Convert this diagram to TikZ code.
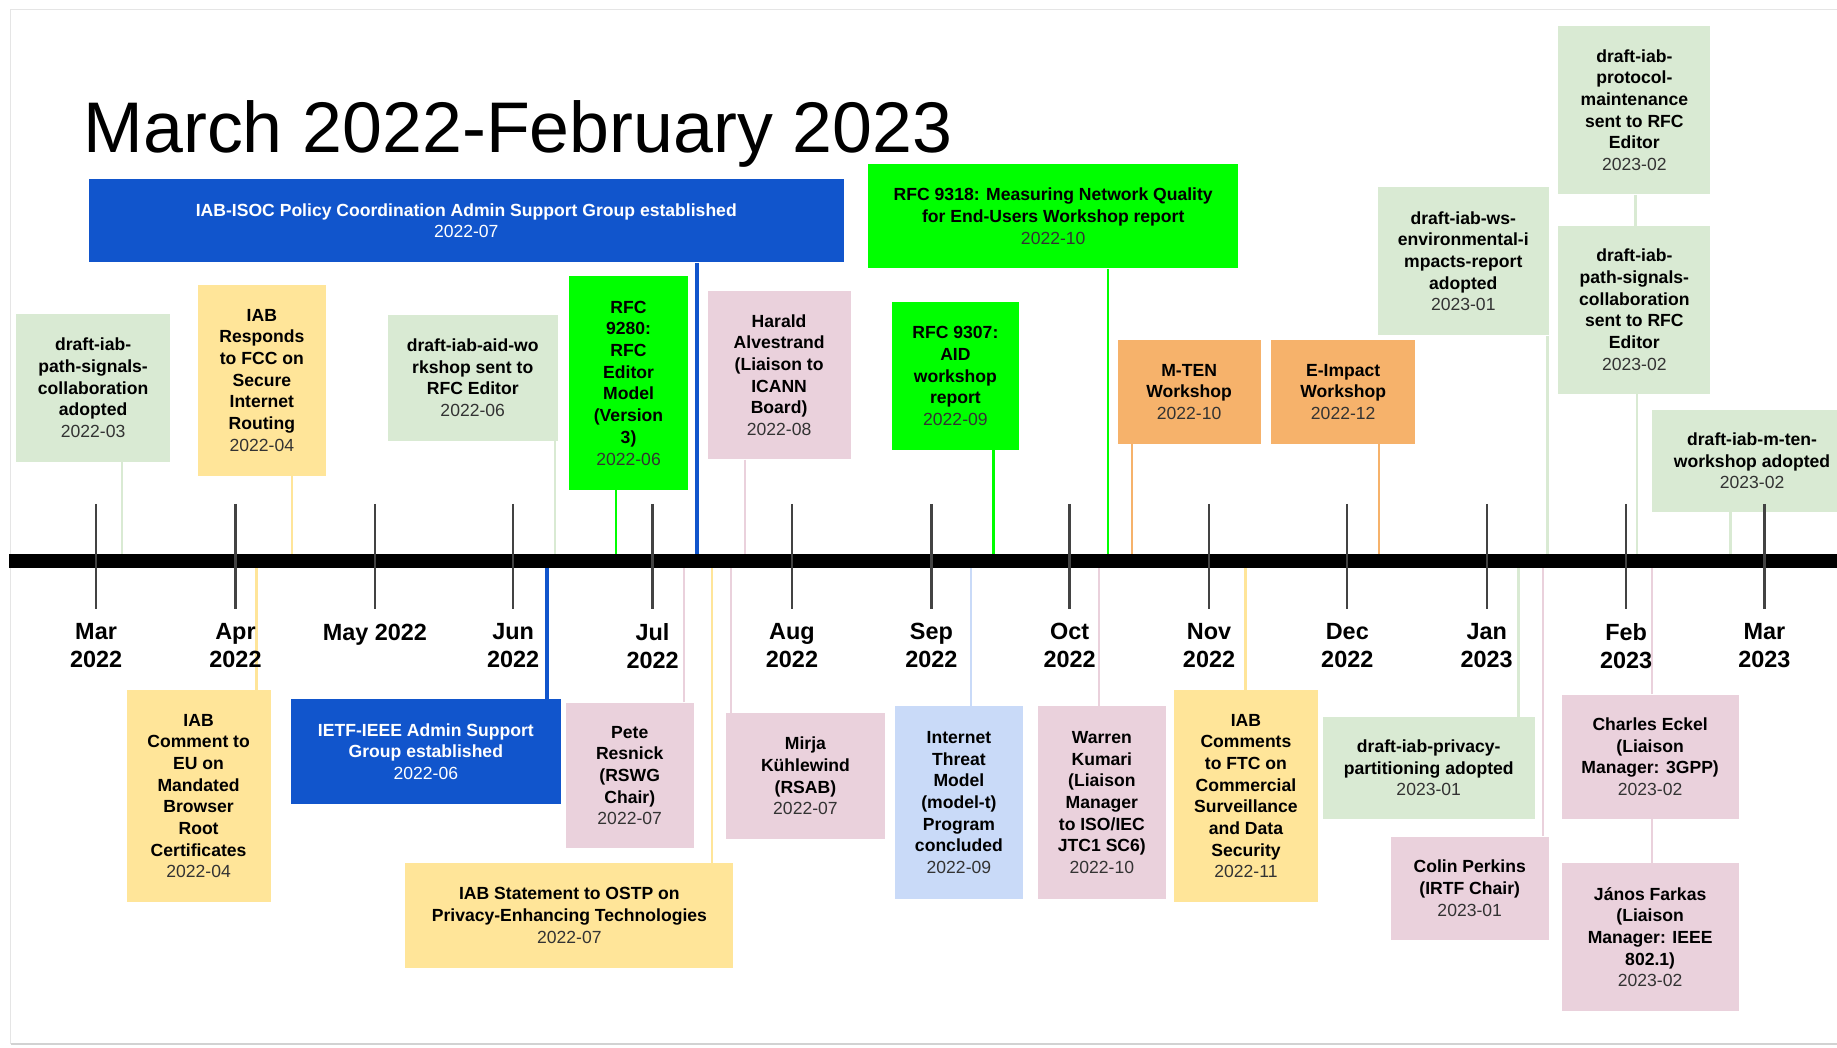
\documentclass[tikz,border=0pt]{standalone}
\usepackage{fontspec}
\setmainfont{Liberation Sans}
\usepackage{xcolor}
\usepackage{tikz}

\definecolor{draftgreen}{HTML}{D9EAD3}
\definecolor{stmtyellow}{HTML}{FFE599}
\definecolor{wsorange}{HTML}{F6B26B}
\definecolor{liaisonpink}{HTML}{EAD1DC}
\definecolor{rfcgreen}{HTML}{00FF00}
\definecolor{adminblue}{HTML}{1155CC}
\definecolor{progblue}{HTML}{C9DAF8}
\definecolor{datetext}{HTML}{333333}
\definecolor{tickgray}{HTML}{434343}

\newcommand{\evdate}[1]{{\mdseries\color{datetext}#1}}

\begin{document}
\begin{tikzpicture}[
  x=0.5pt, y=-0.5pt,
  event/.style={rectangle, inner sep=0pt, align=center, font=\fontsize{7.5}{9.25}\selectfont\bfseries},
  month/.style={anchor=north, inner sep=0pt, align=center, font=\fontsize{10}{12}\selectfont\bfseries,
    execute at begin node=\rule{0pt}{7.6pt}},
  conn/.style={line width=1pt},
  bluelink/.style={line width=1.4pt, adminblue},
  mtick/.style={line width=1pt, tickgray}
]
  \useasboundingbox (0,0) rectangle (1568,894);

  % Page frame
  \draw[gray!20, line width=0.6pt] (9,891) -- (9,8) -- (1568,8);
  \draw[gray!35, line width=0.8pt] (9,891) -- (1568,891);

  % Title
  \node[anchor=base west, inner sep=0pt, font=\fontsize{30.6}{36}\selectfont] (title) at (71,130) {March 2022-February 2023};

  % Timeline end points
  \coordinate (axisL) at (8,479);
  \coordinate (axisR) at (1568,479);

  % Events above the line
  \node[event, fill=draftgreen, minimum width=65.5pt, minimum height=63pt] (pathsig) at (79.5,331)
    {draft-iab-\\path-signals-\\collaboration\\adopted\\\evdate{2022-03}};
  \node[event, fill=stmtyellow, minimum width=54.5pt, minimum height=81.5pt] (fcc) at (223.5,324.5)
    {IAB\\Responds\\to FCC on\\Secure\\Internet\\Routing\\\evdate{2022-04}};
  \node[event, fill=adminblue, text=white, minimum width=322pt, minimum height=35.5pt] (isoc) at (398,188.5)
    {IAB-ISOC Policy Coordination Admin Support Group established\\{\mdseries 2022-07}};
  \node[event, fill=draftgreen, minimum width=72.5pt, minimum height=53.5pt] (aidws) at (403.5,322.5)
    {draft-iab-aid-wo\\rkshop sent to\\RFC Editor\\\evdate{2022-06}};
  \node[event, fill=rfcgreen, minimum width=50.5pt, minimum height=91pt] (rfc9280) at (536.5,327)
    {RFC\\9280:\\RFC\\Editor\\Model\\(Version\\3)\\\evdate{2022-06}};
  \node[event, fill=liaisonpink, minimum width=61pt, minimum height=72pt] (harald) at (665,320)
    {Harald\\Alvestrand\\(Liaison to\\ICANN\\Board)\\\evdate{2022-08}};
  \node[event, fill=rfcgreen, minimum width=158pt, minimum height=44.5pt] (rfc9318) at (899,184.5)
    {RFC 9318: Measuring Network Quality\\for End-Users Workshop report\\\evdate{2022-10}};
  \node[event, fill=rfcgreen, minimum width=54.5pt, minimum height=63pt] (rfc9307) at (815.5,321)
    {RFC 9307:\\AID\\workshop\\report\\\evdate{2022-09}};
  \node[event, fill=wsorange, minimum width=61pt, minimum height=44.5pt] (mten) at (1015,334.5)
    {M-TEN\\Workshop\\\evdate{2022-10}};
  \node[event, fill=wsorange, minimum width=61.5pt, minimum height=44.5pt] (eimpact) at (1146.5,334.5)
    {E-Impact\\Workshop\\\evdate{2022-12}};
  \node[event, fill=draftgreen, minimum width=73pt, minimum height=63pt] (envimp) at (1249,223)
    {draft-iab-ws-\\environmental-i\\mpacts-report\\adopted\\\evdate{2023-01}};
  \node[event, fill=draftgreen, minimum width=65pt, minimum height=72pt] (protmaint) at (1395,94)
    {draft-iab-\\protocol-\\maintenance\\sent to RFC\\Editor\\\evdate{2023-02}};
  \node[event, fill=draftgreen, minimum width=65pt, minimum height=71.5pt] (pathsigrfc) at (1395,264.5)
    {draft-iab-\\path-signals-\\collaboration\\sent to RFC\\Editor\\\evdate{2023-02}};
  \node[event, fill=draftgreen, minimum width=85.5pt, minimum height=43.5pt] (mtenad) at (1495.5,393.5)
    {draft-iab-m-ten-\\workshop adopted\\\evdate{2023-02}};

  % Events below the line
  \node[event, fill=stmtyellow, minimum width=61.5pt, minimum height=90.5pt] (euroot) at (169.5,679.5)
    {IAB\\Comment to\\EU on\\Mandated\\Browser\\Root\\Certificates\\\evdate{2022-04}};
  \node[event, fill=adminblue, text=white, minimum width=115.5pt, minimum height=44.5pt] (ieee) at (363.5,641.5)
    {IETF-IEEE Admin Support\\Group established\\{\mdseries 2022-06}};
  \node[event, fill=liaisonpink, minimum width=54.5pt, minimum height=62pt] (resnick) at (537.5,662)
    {Pete\\Resnick\\(RSWG\\Chair)\\\evdate{2022-07}};
  \node[event, fill=stmtyellow, minimum width=140pt, minimum height=44.5pt] (ostp) at (486,781.5)
    {IAB Statement to OSTP on\\Privacy-Enhancing Technologies\\\evdate{2022-07}};
  \node[event, fill=liaisonpink, minimum width=67.5pt, minimum height=53.5pt] (mirja) at (687.5,662.5)
    {Mirja\\Kühlewind\\(RSAB)\\\evdate{2022-07}};
  \node[event, fill=progblue, minimum width=54.5pt, minimum height=82pt] (modelt) at (818.5,685)
    {Internet\\Threat\\Model\\(model-t)\\Program\\concluded\\\evdate{2022-09}};
  \node[event, fill=liaisonpink, minimum width=54.5pt, minimum height=82pt] (warren) at (940.5,685)
    {Warren\\Kumari\\(Liaison\\Manager\\to ISO/IEC\\JTC1 SC6)\\\evdate{2022-10}};
  \node[event, fill=stmtyellow, minimum width=61.5pt, minimum height=90.5pt] (ftc) at (1063.5,679.5)
    {IAB\\Comments\\to FTC on\\Commercial\\Surveillance\\and Data\\Security\\\evdate{2022-11}};
  \node[event, fill=draftgreen, minimum width=90.5pt, minimum height=43.5pt] (privpart) at (1219.5,655.5)
    {draft-iab-privacy-\\partitioning adopted\\\evdate{2023-01}};
  \node[event, fill=liaisonpink, minimum width=67.5pt, minimum height=44pt] (perkins) at (1254.5,758)
    {Colin Perkins\\(IRTF Chair)\\\evdate{2023-01}};
  \node[event, fill=liaisonpink, minimum width=75.5pt, minimum height=53pt] (eckel) at (1408.5,646)
    {Charles Eckel\\(Liaison\\Manager: 3GPP)\\\evdate{2023-02}};
  \node[event, fill=liaisonpink, minimum width=75.5pt, minimum height=63pt] (farkas) at (1408.5,800)
    {János Farkas\\(Liaison\\Manager: IEEE\\802.1)\\\evdate{2023-02}};

  % Connectors down to the line
  \foreach \n/\x/\c in {pathsig/104/draftgreen, fcc/249/stmtyellow, aidws/474/draftgreen,
      rfc9280/526/rfcgreen, harald/636/liaisonpink, rfc9318/946/rfcgreen, rfc9307/848/rfcgreen,
      mten/966/wsorange, eimpact/1177/wsorange, envimp/1321/draftgreen,
      pathsigrfc/1397/draftgreen, mtenad/1477/draftgreen}
    \draw[conn, \c] (\n.south -| \x,0) -- (\x,0 |- axisL);
  \draw[bluelink] (isoc.south -| 595,0) -- (595,0 |- axisL);
  \draw[conn, draftgreen] (protmaint.south -| 1396,0) -- (pathsigrfc.north -| 1396,0);

  % Connectors up to the line
  \foreach \n/\x/\c in {euroot/219/stmtyellow, resnick/584/liaisonpink, ostp/608/stmtyellow,
      mirja/624/liaisonpink, modelt/829/progblue, warren/938/liaisonpink, ftc/1063/stmtyellow,
      privpart/1296/draftgreen, perkins/1317/liaisonpink, eckel/1410/liaisonpink}
    \draw[conn, \c] (\n.north -| \x,0) -- (\x,0 |- axisL);
  \draw[bluelink] (ieee.north -| 467,0) -- (467,0 |- axisL);
  \draw[conn, liaisonpink] (eckel.south -| 1410,0) -- (farkas.north -| 1410,0);

  % Timeline
  \draw[line width=6pt] (axisL) -- (axisR);

  % Month markers
  \foreach \x/\m in {82/Mar\\2022, 201/Apr\\2022, 320/May 2022, 438/Jun\\2022, 557/Jul\\2022,
      676/Aug\\2022, 795/Sep\\2022, 913/Oct\\2022, 1032/Nov\\2022, 1150/Dec\\2022,
      1269/Jan\\2023, 1388/Feb\\2023, 1506/Mar\\2023} {
    \draw[mtick] (\x,430) -- (\x,520);
    \node[month] at (\x,531.5) {\m};
  }
\end{tikzpicture}
\end{document}
